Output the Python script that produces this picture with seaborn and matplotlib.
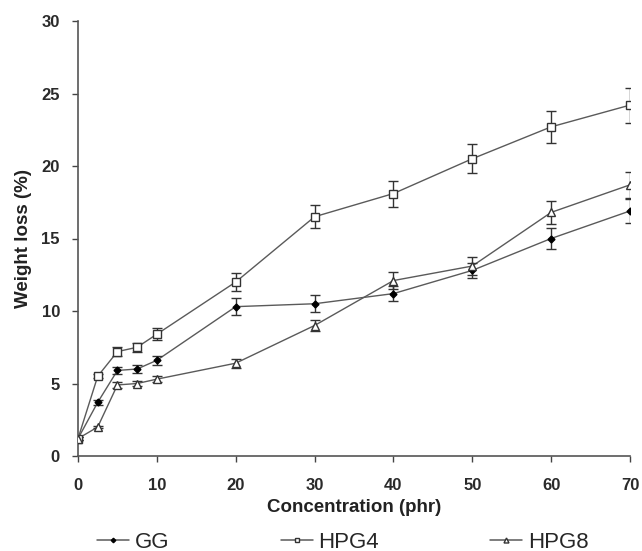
import matplotlib
matplotlib.use("Agg")
import matplotlib.pyplot as plt
import seaborn as sns
import pandas as pd
from matplotlib.lines import Line2D

conc = [0, 2.5, 5, 7.5, 10, 20, 30, 40, 50, 60, 70]
gg = [1.2, 3.7, 5.9, 6.0, 6.6, 10.3, 10.5, 11.2, 12.8, 15.0, 16.9]
gg_err = [0.1, 0.15, 0.25, 0.3, 0.3, 0.6, 0.6, 0.5, 0.5, 0.7, 0.8]
hpg4 = [1.2, 5.5, 7.2, 7.5, 8.4, 12.0, 16.5, 18.1, 20.5, 22.7, 24.2]
hpg4_err = [0.1, 0.15, 0.3, 0.3, 0.4, 0.6, 0.8, 0.9, 1.0, 1.1, 1.2]
hpg8 = [1.2, 2.0, 4.9, 5.0, 5.3, 6.4, 9.0, 12.1, 13.1, 16.8, 18.7]
hpg8_err = [0.1, 0.1, 0.2, 0.2, 0.2, 0.3, 0.4, 0.6, 0.6, 0.8, 0.9]
series_names = ["GG", "HPG4", "HPG8"]
xticks = [0, 10, 20, 30, 40, 50, 60, 70]
yticks = [0, 5, 10, 15, 20, 25, 30]

sns.set_theme(style="ticks")
plt.rcParams['font.family'] = ['Liberation Sans', 'DejaVu Sans']

df = pd.concat([
    pd.DataFrame({"x": conc, "y": gg, "s": "GG"}),
    pd.DataFrame({"x": conc, "y": hpg4, "s": "HPG4"}),
    pd.DataFrame({"x": conc, "y": hpg8, "s": "HPG8"}),
])

fig = plt.figure(figsize=(6.42, 5.51), dpi=100)
ax = fig.add_axes([78/642, 1-456/551, 552/642, 435/551])

lc = "#5a5a5a"
styles = {
    "GG": dict(marker="D", mfc="black", mec="black", ms=3.5),
    "HPG4": dict(marker="s", mfc="white", mec="#333333", ms=5.5),
    "HPG8": dict(marker="^", mfc="white", mec="#333333", ms=5.5),
}
errs = {"GG": (gg, gg_err), "HPG4": (hpg4, hpg4_err), "HPG8": (hpg8, hpg8_err)}

for name in series_names:
    sub = df[df.s == name]
    sns.lineplot(data=sub, x="x", y="y", ax=ax, color=lc, lw=1.0,
                 legend=False, zorder=2)
    y, e = errs[name]
    ax.errorbar(conc, y, yerr=e, fmt="none", ecolor="#333333", elinewidth=1.0,
                capsize=3.5, capthick=1.0, zorder=3)
    st = styles[name]
    ax.plot(conc, y, ls="none", marker=st["marker"], mfc=st["mfc"],
            mec=st["mec"], ms=st["ms"], mew=1.0, zorder=4)

ax.set_xlim(0, 70)
ax.set_ylim(0, 30)
ax.set_xticks(xticks)
ax.set_yticks(yticks)
ax.tick_params(axis="both", direction="out", length=4, width=1.0, colors="#444444",
               labelcolor="#2a2a2a", labelsize=12)
ax.tick_params(axis="x", pad=12)
ax.tick_params(axis="y", pad=9)
for lab in ax.get_yticklabels() + ax.get_xticklabels():
    lab.set_fontweight("bold")
sns.despine(ax=ax)
for sp in ["left", "bottom"]:
    ax.spines[sp].set_color("#555555")
    ax.spines[sp].set_linewidth(1.2)
ax.set_xlabel("Concentration (phr)", fontsize=13.5, fontweight="bold", labelpad=4, color="#222222")
ax.set_ylabel("Weight loss (%)", fontsize=13.5, fontweight="bold", labelpad=7, color="#222222")

handles = []
for name in series_names:
    st = styles[name]
    handles.append(Line2D([], [], color=lc, lw=1.1, marker=st["marker"], mfc=st["mfc"],
                          mec=st["mec"], ms=st["ms"] * 0.65, mew=1.0))
fig.legend(handles, series_names, loc="center left", bbox_to_anchor=(97/642, 1-542/551),
           ncol=3, frameon=False, fontsize=16, handlelength=1.44, handletextpad=0.27,
           columnspacing=5.0, borderpad=0, borderaxespad=0)

fig.savefig("out.png", dpi=100)
